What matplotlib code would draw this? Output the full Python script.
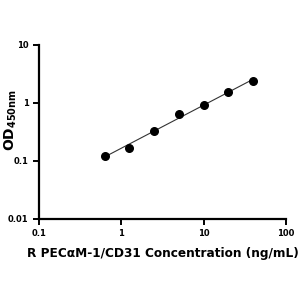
import numpy as np
import matplotlib
matplotlib.use('Agg')
import matplotlib.pyplot as plt

# standard curve readings
conc = [0.625, 1.25, 2.5, 5, 10, 20, 40]
od = [0.122, 0.168, 0.33, 0.645, 0.92, 1.55, 2.4]

xticks = [0.1, 1, 10, 100]
xlabels = ['0.1', '1', '10', '100']
yticks = [0.01, 0.1, 1, 10]
ylabels = ['0.01', '0.1', '1', '10']

fig = plt.figure(figsize=(3, 3), dpi=100)
ax = fig.add_axes([0.13, 0.27, 0.823, 0.58])

# power fit through the points
lx = np.log10(conc)
ly = np.log10(od)
k, b = np.polyfit(lx, ly, 1)
fx = np.array([min(conc), max(conc)])
ax.plot(fx, 10 ** (k * np.log10(fx) + b), color='#333333', lw=0.8, zorder=1)
ax.scatter(conc, od, s=30, color='black', zorder=2)

ax.set_xscale('log')
ax.set_yscale('log')
ax.set_xlim(0.1, 100)
ax.set_ylim(0.01, 10)
ax.set_xticks(xticks)
ax.set_xticklabels(xlabels)
ax.set_yticks(yticks)
ax.set_yticklabels(ylabels)
ax.minorticks_off()

for s in ['top', 'right']:
    ax.spines[s].set_visible(False)
for s in ['left', 'bottom']:
    ax.spines[s].set_linewidth(1.6)
ax.tick_params(width=1.4, length=4, labelsize=6)
for t in ax.get_xticklabels() + ax.get_yticklabels():
    t.set_fontweight('bold')

ax.set_xlabel('R PECαM-1/CD31 Concentration (ng/mL)', fontsize=8.7, fontweight='bold', labelpad=6)
ax.set_ylabel(r'$\mathbf{OD_{450nm}}$', fontsize=10)
ax.yaxis.set_label_coords(-0.082, 0.57)

plt.savefig('out.png', dpi=100)
